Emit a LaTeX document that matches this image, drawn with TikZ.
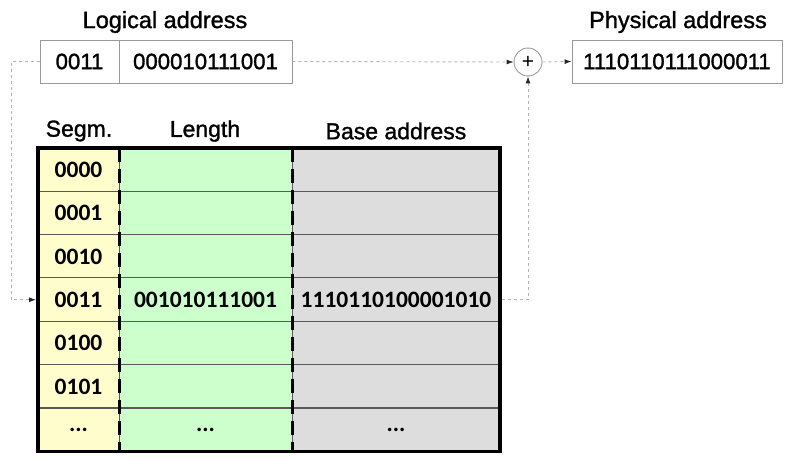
\documentclass[tikz,border=0pt]{standalone}
\usepackage{fontspec}
\setmainfont{Liberation Sans}
\newfontfamily\lblfont{Liberation Sans}[RawFeature={embolden=1.3}]
\newfontfamily\tabfont{Carlito Bold}
\usetikzlibrary{arrows.meta}
\definecolor{segfill}{HTML}{FFFDCC}
\definecolor{lenfill}{HTML}{CCFFCC}
\definecolor{basefill}{HTML}{DDDDDD}
\newcommand{\mydots}{...}
\begin{document}
\begin{tikzpicture}[x=1pt,y=-1pt,
  toplbl/.style={inner sep=0pt, font=\lblfont\fontsize{23.5}{27}\selectfont},
  lbl/.style={inner sep=0pt, font=\lblfont\fontsize{23}{27}\selectfont},
  addr/.style={draw=gray!80, line width=0.9pt, minimum height=43pt, inner sep=0pt, font=\lblfont\fontsize{22.2}{26}\selectfont},
  cell/.style={inner sep=0pt, minimum height=43.35pt, font=\tabfont\fontsize{23.5}{27}\selectfont},
  link/.style={draw=gray!60, line width=0.9pt, dash pattern=on 3pt off 3pt, -{Latex[length=7pt,width=5pt,color=black!85]}},
  rowline/.style={draw=black!65, line width=1.2pt},
  coldash/.style={draw=black, line width=3.2pt, dash pattern=on 14pt off 7pt},
  colthin/.style={draw=black!65, line width=1pt},
  outer/.style={draw=black, line width=3.5pt}
]
\useasboundingbox (0,0) rectangle (798,460);

% address boxes
\node[addr, minimum width=79pt] (lseg) at (79.5,61.5) {0011};
\node[addr, minimum width=173pt] (loff) at (205.5,61.5) {000010111001};
\node[addr, minimum width=210pt] (phys) at (677,61.5) {1110110111000011};
\node[draw=gray!80, line width=0.9pt, circle, minimum size=28pt, inner sep=0pt, font=\fontsize{21}{24}\selectfont] (plus) at (528,62) {+};

\node[toplbl] (llab) at (165,22) {Logical address};
\node[toplbl] (plab) at (678,22) {Physical address};

% headers
\node[lbl] (hseg) at (79,131) {Segm.};
\node[lbl] (hlen) at (205,131) {Length};
\node[lbl] (hbase) at (396,131) {Base address};

% table cells
\foreach \i/\s/\l/\b in {0/0000/{}/{},1/0001/{}/{},2/0010/{}/{},3/0011/001010111001/1110110100001010,4/0100/{}/{},5/0101/{}/{},6/\mydots/\mydots/\mydots}{
  \pgfmathsetmacro\yc{148+43.35*(\i+0.5)}
  \node[cell, fill=segfill, minimum width=81pt] (seg\i) at (78.5,\yc) {\s};
  \node[cell, fill=lenfill, minimum width=173pt] (len\i) at (205.5,\yc) {\l};
  \node[cell, fill=basefill, minimum width=208pt] (base\i) at (396,\yc) {\b};
}
\foreach \i in {1,...,6}{
  \draw[rowline] (seg\i.north west) -- (base\i.north east);
}
\draw[colthin] (seg0.north east) -- (seg6.south east);
\draw[colthin] (len0.north east) -- (len6.south east);
\draw[coldash] (seg0.north east) -- (seg6.south east);
\draw[coldash] (len0.north east) -- (len6.south east);
\draw[outer] (seg0.north west) rectangle (base6.south east);

% connectors
\coordinate (lc) at (11,61.5);
\draw[link] (lseg.west) -- (lc) |- ([xshift=-1.8pt]seg3.west);
\draw[link] (loff.east) -- (plus.west);
\draw[link] (plus.east) -- (phys.west);
\draw[link] ([xshift=1.8pt]base3.east) -| (plus.south);
\end{tikzpicture}
\end{document}
